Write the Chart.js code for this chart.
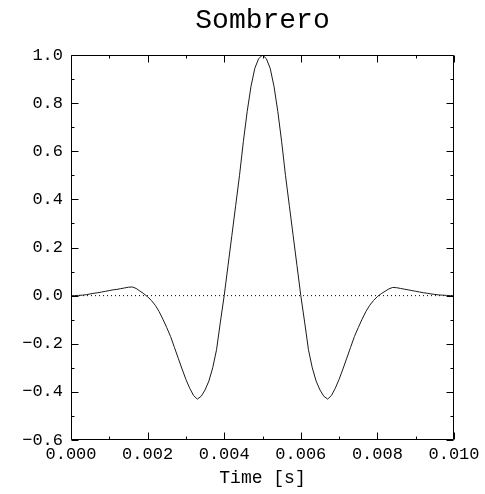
<!DOCTYPE html>
<html>
<head>
<meta charset="utf-8">
<script src="https://cdn.jsdelivr.net/npm/chart.js@4/dist/chart.umd.min.js"></script>
<style>
  html, body { margin: 0; padding: 0; background: #fff; }
  #wrap { width: 485px; height: 494px; }
</style>
</head>
<body>
<div id="wrap"><canvas id="c" width="485" height="494"></canvas></div>
<script>
// ---- data ----
const chartTitle = 'Sombrero';
const xAxisTitle = 'Time [s]';
const timeSeconds = [
  0.0000, 0.0001, 0.0002, 0.0003, 0.0004, 0.0005, 0.0006, 0.0007, 0.0008, 0.0009,
  0.0010, 0.0011, 0.0012, 0.0013, 0.0014, 0.0015, 0.0016, 0.0017, 0.0018, 0.0019,
  0.0020, 0.0021, 0.0022, 0.0023, 0.0024, 0.0025, 0.0026, 0.0027, 0.0028, 0.0029,
  0.0030, 0.0031, 0.0032, 0.0033, 0.0034, 0.0035, 0.0036, 0.0037, 0.0038, 0.0039,
  0.0040, 0.0041, 0.0042, 0.0043, 0.0044, 0.0045, 0.0046, 0.0047, 0.0048, 0.0049,
  0.0050, 0.0051, 0.0052, 0.0053, 0.0054, 0.0055, 0.0056, 0.0057, 0.0058, 0.0059,
  0.0060, 0.0061, 0.0062, 0.0063, 0.0064, 0.0065, 0.0066, 0.0067, 0.0068, 0.0069,
  0.0070, 0.0071, 0.0072, 0.0073, 0.0074, 0.0075, 0.0076, 0.0077, 0.0078, 0.0079,
  0.0080, 0.0081, 0.0082, 0.0083, 0.0084, 0.0085, 0.0086, 0.0087, 0.0088, 0.0089,
  0.0090, 0.0091, 0.0092, 0.0093, 0.0094, 0.0095, 0.0096, 0.0097, 0.0098, 0.0099,
  0.0100
];
const amplitude = [
  0.000, 0.000, 0.001, 0.002, 0.004, 0.007, 0.010, 0.012, 0.015, 0.018,
  0.021, 0.024, 0.026, 0.029, 0.032, 0.035, 0.036, 0.030, 0.019, 0.008,
 -0.005, -0.020, -0.040, -0.066, -0.098, -0.133, -0.170, -0.215, -0.260, -0.305,
 -0.348, -0.385, -0.415, -0.430, -0.418, -0.392, -0.355, -0.300, -0.225, -0.110,
  0.000, 0.125, 0.250, 0.375, 0.500, 0.640, 0.765, 0.870, 0.945, 0.985,
  1.000, 0.985, 0.945, 0.870, 0.765, 0.640, 0.500, 0.375, 0.250, 0.125,
  0.000, -0.110, -0.225, -0.300, -0.355, -0.392, -0.418, -0.430, -0.415, -0.385,
 -0.348, -0.305, -0.260, -0.215, -0.170, -0.133, -0.098, -0.066, -0.040, -0.020,
 -0.004, 0.008, 0.018, 0.028, 0.034, 0.033, 0.030, 0.027, 0.024, 0.021,
  0.018, 0.015, 0.012, 0.010, 0.007, 0.005, 0.003, 0.002, 0.001, 0.000,
  0.000
];
const zeroLineX = [0.000, 0.010];
const zeroLineY = [0, 0];
const xRange = [0.000, 0.010];
const yRange = [-0.6, 1.0];
const xMajorStep = 0.002, xMinorStep = 0.001;
const yMajorStep = 0.2, yMinorStep = 0.1;

const FONT = "'Liberation Mono', 'DejaVu Sans Mono', monospace";

const frameAndTicks = {
  id: 'frameAndTicks',
  afterDatasetsDraw(chart) {
    const {ctx, chartArea: a, scales: {x, y}} = chart;
    ctx.save();
    ctx.strokeStyle = '#000';
    ctx.lineWidth = 1;
    ctx.beginPath();
    const L = Math.round(a.left) + 0.5, R = Math.round(a.right) - 0.5;
    const T = Math.round(a.top) + 0.5, B = Math.round(a.bottom) - 0.5;
    ctx.rect(L, T, R - L, B - T);
    const nx = Math.round((x.max - x.min) / xMinorStep);
    for (let i = 0; i <= nx; i++) {
      const v = x.min + i * xMinorStep;
      const major = (i % Math.round(xMajorStep / xMinorStep)) === 0;
      const len = major ? 7 : 3;
      const px = Math.round(x.getPixelForValue(v)) + 0.5;
      ctx.moveTo(px, B); ctx.lineTo(px, B - len);
      ctx.moveTo(px, T); ctx.lineTo(px, T + len);
    }
    const ny = Math.round((y.max - y.min) / yMinorStep);
    for (let i = 0; i <= ny; i++) {
      const v = y.min + i * yMinorStep;
      const major = (i % Math.round(yMajorStep / yMinorStep)) === 0;
      const len = major ? 7 : 3;
      const py = Math.round(y.getPixelForValue(v)) + 0.5;
      ctx.moveTo(L, py); ctx.lineTo(L + len, py);
      ctx.moveTo(R, py); ctx.lineTo(R - len, py);
    }
    ctx.stroke();
    ctx.restore();
  }
};

new Chart(document.getElementById('c'), {
  type: 'line',
  data: {
    datasets: [
      {
        data: timeSeconds.map((t, i) => ({x: t, y: amplitude[i]})),
        borderColor: '#1a1a1a',
        borderWidth: 1,
        pointRadius: 0,
        tension: 0,
        fill: false
      },
      {
        data: zeroLineX.map((t, i) => ({x: t, y: zeroLineY[i]})),
        borderColor: '#000',
        borderWidth: 1,
        borderDash: [1, 3],
        pointRadius: 0,
        fill: false
      }
    ]
  },
  options: {
    responsive: false,
    animation: false,
    devicePixelRatio: 1,
    layout: { padding: { left: 0, right: 31, top: 0, bottom: 0 } },
    plugins: {
      legend: { display: false },
      tooltip: { enabled: false },
      title: {
        display: true,
        fullSize: false,
        text: chartTitle,
        color: '#000',
        font: { family: FONT, size: 28, weight: 'normal' },
        padding: { top: 4.2, bottom: 17.2 }
      }
    },
    scales: {
      x: {
        type: 'linear',
        min: xRange[0], max: xRange[1],
        grid: { display: false, drawTicks: false },
        border: { display: false },
        ticks: {
          stepSize: xMajorStep,
          autoSkip: false, maxRotation: 0,
          padding: 4,
          color: '#000',
          font: { family: FONT, size: 17 },
          callback: v => v.toFixed(3)
        },
        title: {
          display: true, text: xAxisTitle, color: '#000',
          font: { family: FONT, size: 18 },
          padding: { top: 0, bottom: 5 }
        },
        afterFit(s) { s.height = 54; }
      },
      y: {
        min: yRange[0], max: yRange[1],
        grid: { display: false, drawTicks: false },
        border: { display: false },
        ticks: {
          stepSize: yMajorStep,
          autoSkip: false,
          padding: 8,
          color: '#000',
          font: { family: FONT, size: 17 },
          callback: v => (Math.abs(v) < 1e-9 ? '0.0' : (v < 0 ? '\u2212' : '') + Math.abs(v).toFixed(1))
        },
        afterFit(s) { s.width = 71; }
      }
    }
  },
  plugins: [frameAndTicks]
});
</script>
</body>
</html>
